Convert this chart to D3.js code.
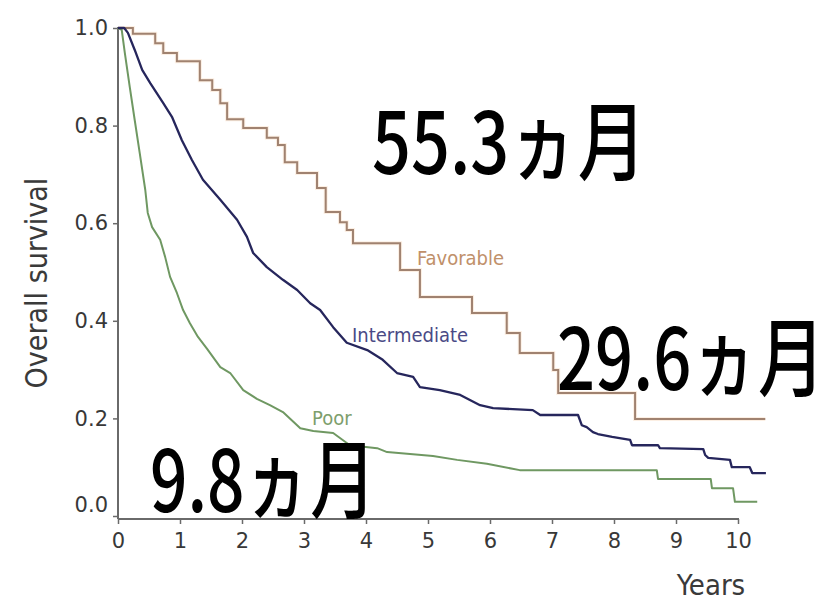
<!DOCTYPE html>
<html>
<head>
<meta charset="utf-8">
<script src="https://cdn.jsdelivr.net/npm/d3@7"></script>
<style>
  html, body { margin: 0; padding: 0; background: #ffffff; }
  svg { display: block; }
</style>
</head>
<body>
<svg id="chart" width="832" height="601"></svg>
<script>
// Kaplan–Meier overall survival by risk group (years on x)

// Favorable group: step function (time, survival after the event)
const favorableTime = [0, 0.24, 0.60, 0.73, 0.95, 1.32, 1.52, 1.65, 1.76, 2.02, 2.40, 2.58, 2.69, 2.89, 3.21, 3.35, 3.58, 3.69, 3.79, 4.55, 4.87, 5.71, 6.27, 6.48, 7.02, 7.10, 8.34, 10.44];
const favorableSurv = [1.0, 0.988, 0.969, 0.949, 0.932, 0.893, 0.873, 0.846, 0.813, 0.795, 0.775, 0.760, 0.725, 0.703, 0.672, 0.623, 0.602, 0.586, 0.559, 0.504, 0.449, 0.416, 0.375, 0.334, 0.299, 0.252, 0.199, 0.199];

// Intermediate group: dense events, traced as a polyline
const intermediateTime = [0, 0.10, 0.16, 0.27, 0.39, 0.52, 0.73, 0.87, 1.03, 1.19, 1.37, 1.65, 1.92, 2.08, 2.18, 2.40, 2.66, 2.89, 3.10, 3.26, 3.47, 3.69, 4.02, 4.27, 4.50, 4.76, 4.87, 5.19, 5.52, 5.84, 6.05, 6.69, 6.81, 7.42, 7.48, 7.56, 7.66, 7.74, 7.97, 8.26, 8.29, 8.71, 8.74, 9.44, 9.47, 9.52, 9.87, 9.90, 10.19, 10.23, 10.45];
const intermediateSurv = [1.0, 1.0, 0.990, 0.955, 0.914, 0.887, 0.846, 0.818, 0.770, 0.730, 0.689, 0.648, 0.607, 0.572, 0.539, 0.510, 0.484, 0.463, 0.436, 0.422, 0.387, 0.355, 0.340, 0.320, 0.293, 0.285, 0.264, 0.258, 0.248, 0.227, 0.221, 0.217, 0.207, 0.207, 0.186, 0.182, 0.172, 0.168, 0.162, 0.156, 0.145, 0.145, 0.139, 0.137, 0.125, 0.119, 0.115, 0.100, 0.100, 0.088, 0.088];

// Poor group: dense early events, traced as a polyline
const poorTime = [0, 0.06, 0.11, 0.19, 0.27, 0.35, 0.44, 0.48, 0.55, 0.68, 0.76, 0.84, 0.95, 1.05, 1.16, 1.29, 1.44, 1.65, 1.81, 2.02, 2.24, 2.45, 2.66, 2.94, 3.15, 3.47, 3.74, 4.18, 4.34, 5.08, 5.47, 5.95, 6.48, 8.69, 8.71, 9.56, 9.58, 9.92, 9.95, 10.31];
const poorSurv = [1.0, 0.996, 0.949, 0.879, 0.811, 0.744, 0.668, 0.621, 0.592, 0.566, 0.531, 0.490, 0.457, 0.422, 0.395, 0.367, 0.342, 0.305, 0.293, 0.258, 0.240, 0.227, 0.213, 0.180, 0.174, 0.170, 0.145, 0.139, 0.131, 0.123, 0.115, 0.107, 0.094, 0.094, 0.076, 0.076, 0.057, 0.057, 0.029, 0.029];

const xTicks = [0, 1, 2, 3, 4, 5, 6, 7, 8, 9, 10];
const yTicks = [0.0, 0.2, 0.4, 0.6, 0.8, 1.0];

// Median survival annotations
const medianLabels = ["55.3ヵ月", "29.6ヵ月", "9.8ヵ月"];
const groupNames = ["Favorable", "Intermediate", "Poor"];

const svg = d3.select("#chart");

const x = d3.scaleLinear().domain([0, 10]).range([118, 738]);
const y = d3.scaleLinear().domain([0, 1]).range([516, 28]);
const axisY = 519;

const axisColor = "#6a6a6a";
const tickTextColor = "#383838";

// Axes
const xAxis = svg.append("g")
  .attr("transform", `translate(0,${axisY})`)
  .call(d3.axisBottom(x).tickValues(xTicks).tickFormat(d3.format("d")).tickSize(5).tickPadding(4));
xAxis.select(".domain").attr("d", `M${x(0)},0H${x(10) + 1}`);

const yAxis = svg.append("g")
  .attr("transform", `translate(${x(0)},0)`)
  .call(d3.axisLeft(y).tickValues(yTicks).tickFormat(d3.format(".1f")).tickSize(5).tickPadding(5));
yAxis.select(".domain").attr("d", `M0,${y(1) - 1}V${axisY}`);

[xAxis, yAxis].forEach(g => {
  g.select(".domain").attr("stroke", axisColor).attr("stroke-width", 2).attr("fill", "none");
  g.selectAll(".tick line").attr("stroke", axisColor).attr("stroke-width", 1.5);
  g.selectAll(".tick text")
    .attr("fill", tickTextColor)
    .attr("font-family", "'DejaVu Sans', Verdana, sans-serif")
    .attr("font-size", 21);
});
xAxis.selectAll(".tick text").attr("dy", "0.95em");
// lift the bottom y label clear of the x axis numbers
yAxis.selectAll(".tick text").filter(d => d === 0).attr("dy", "-0.22em");

// Axis titles
svg.append("text")
  .attr("transform", "translate(47,283) rotate(-90)")
  .attr("text-anchor", "middle")
  .attr("font-family", "'DejaVu Sans Condensed', 'DejaVu Sans', sans-serif")
  .attr("font-stretch", "condensed")
  .attr("font-size", 30)
  .attr("fill", "#3a3a3a")
  .text("Overall survival");

svg.append("text")
  .attr("x", 711).attr("y", 595)
  .attr("text-anchor", "middle")
  .attr("font-family", "'DejaVu Sans Condensed', 'DejaVu Sans', sans-serif")
  .attr("font-stretch", "condensed")
  .attr("font-size", 29)
  .attr("fill", "#3a3a3a")
  .text("Years");

// Curves
const toPts = (t, s) => t.map((v, i) => [v, s[i]]);
const stepLine = d3.line().x(d => x(d[0])).y(d => y(d[1])).curve(d3.curveStepAfter);
const polyLine = d3.line().x(d => x(d[0])).y(d => y(d[1])).curve(d3.curveLinear);

const favPts = toPts(favorableTime, favorableSurv);
svg.append("path").attr("d", stepLine(favPts))
  .attr("fill", "none").attr("stroke", "#f8dcc0").attr("stroke-width", 4).attr("stroke-opacity", 0.45);
svg.append("path").attr("d", stepLine(favPts))
  .attr("fill", "none").attr("stroke", "#a08270").attr("stroke-width", 2);

svg.append("path").attr("d", polyLine(toPts(poorTime, poorSurv)))
  .attr("fill", "none").attr("stroke", "#6f9862").attr("stroke-width", 2)
  .attr("stroke-linejoin", "round");

svg.append("path").attr("d", polyLine(toPts(intermediateTime, intermediateSurv)))
  .attr("fill", "none").attr("stroke", "#26265c").attr("stroke-width", 2.3)
  .attr("stroke-linejoin", "round");

// Group labels
const labelFont = "'DejaVu Sans Condensed', 'DejaVu Sans', sans-serif";
const groupLabelPos = [[417, 265], [352, 342], [312, 425]];
const groupColors = ["#c0906a", "#4a4a86", "#7d9e6c"];
groupNames.forEach((name, i) => {
  svg.append("text")
    .attr("x", groupLabelPos[i][0]).attr("y", groupLabelPos[i][1])
    .attr("font-family", labelFont)
    .attr("font-stretch", "condensed")
    .attr("font-size", 20)
    .attr("fill", groupColors[i])
    .text(name);
});

// Median survival annotations
const medianPos = [[372, 174, 274], [557, 390, 268], [150, 512, 226]];
medianLabels.forEach((txt, i) => {
  svg.append("text")
    .attr("x", medianPos[i][0]).attr("y", medianPos[i][1])
    .attr("font-family", "'Noto Sans CJK JP', sans-serif")
    .attr("font-weight", 500)
    .attr("font-size", 86)
    .attr("textLength", medianPos[i][2])
    .attr("lengthAdjust", "spacingAndGlyphs")
    .attr("fill", "#000")
    .text(txt);
});
</script>
</body>
</html>
